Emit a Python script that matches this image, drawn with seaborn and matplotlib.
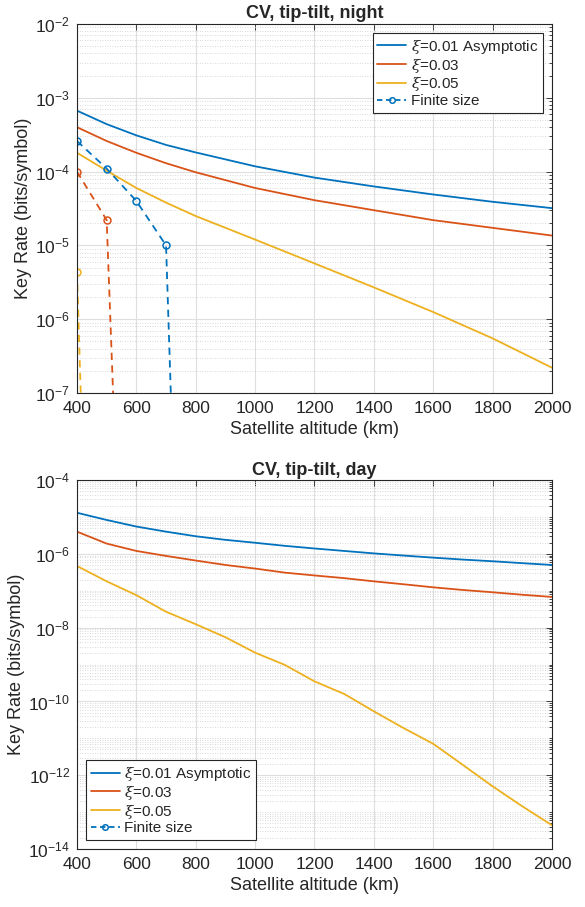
import matplotlib
matplotlib.use("Agg")
import matplotlib.pyplot as plt
import matplotlib.ticker as mticker
import numpy as np
import seaborn as sns

# ---- data ----
alt = [400, 500, 600, 700, 800, 1000, 1200, 1400, 1600, 1800, 2000]

night_xi001 = [6.7e-4, 4.4e-4, 3.1e-4, 2.3e-4, 1.82e-4, 1.18e-4, 8.3e-5, 6.3e-5, 4.9e-5, 3.9e-5, 3.2e-5]
night_xi003 = [4.0e-4, 2.6e-4, 1.8e-4, 1.3e-4, 9.8e-5, 6.0e-5, 4.1e-5, 3.0e-5, 2.2e-5, 1.73e-5, 1.36e-5]
night_xi005 = [1.8e-4, 1.03e-4, 6.0e-5, 3.8e-5, 2.5e-5, 1.2e-5, 5.7e-6, 2.7e-6, 1.25e-6, 5.5e-7, 2.2e-7]

# finite size (last point of each is where the rate collapses to ~zero)
fin_alt_001 = [400, 500, 600, 700, 732]
fin_001 = [2.6e-4, 1.1e-4, 4.0e-5, 1.0e-5, 1e-9]
fin_alt_003 = [400, 500, 540]
fin_003 = [1.0e-4, 2.2e-5, 1e-9]
fin_alt_005 = [400, 428]
fin_005 = [4.4e-6, 1e-9]

day_alt = [400, 500, 600, 700, 800, 900, 1000, 1100, 1200, 1300, 1400,
           1500, 1600, 1700, 1800, 1900, 2000]
day_xi001 = [1.3e-5, 8.3e-6, 5.5e-6, 4.0e-6, 3.0e-6, 2.4e-6, 2.0e-6, 1.65e-6, 1.4e-6,
             1.2e-6, 1.03e-6, 9.0e-7, 7.9e-7, 7.0e-7, 6.3e-7, 5.6e-7, 5.0e-7]
day_xi003 = [4.0e-6, 1.9e-6, 1.2e-6, 8.8e-7, 6.6e-7, 5.0e-7, 4.0e-7, 3.1e-7, 2.6e-7,
             2.2e-7, 1.8e-7, 1.5e-7, 1.24e-7, 1.05e-7, 9.1e-8, 7.8e-8, 6.8e-8]
day_xi005 = [4.7e-7, 1.8e-7, 7.6e-8, 2.7e-8, 1.24e-8, 5.5e-9, 2.1e-9, 9.8e-10, 3.5e-10,
             1.6e-10, 5.4e-11, 1.9e-11, 7.1e-12, 1.9e-12, 5.0e-13, 1.44e-13, 4.4e-14]

labels = [r"$\xi$=0.01 Asymptotic", r"$\xi$=0.03", r"$\xi$=0.05", "Finite size"]
colors = ["#0072BD", "#D95319", "#EDB120"]

sns.set_theme(style="white")
plt.rcParams["font.family"] = ["Liberation Sans", "DejaVu Sans"]
plt.rcParams["mathtext.fontset"] = "dejavuserif"

fig = plt.figure(figsize=(5.85, 9.07), dpi=100)
ax1 = fig.add_axes([0.1316, 0.5667, 0.812, 0.4068])
ax2 = fig.add_axes([0.1316, 0.0639, 0.812, 0.4068])


def style_axes(ax, ymin, ymax, major_base):
    ax.set_yscale("log")
    ax.set_xlim(400, 2000)
    ax.set_ylim(ymin, ymax)
    ax.set_xticks(range(400, 2001, 200))
    ax.yaxis.set_major_locator(mticker.LogLocator(base=major_base, numticks=20))
    ax.yaxis.set_minor_locator(mticker.LogLocator(base=10, subs=np.arange(1, 10), numticks=40))
    ax.yaxis.set_minor_formatter(mticker.NullFormatter())
    ax.grid(True, which="major", color="#dedede", linewidth=0.8, linestyle="-")
    ax.grid(True, which="minor", axis="y", color="#cccccc", linewidth=0.6, linestyle=(0, (1, 2)))
    ax.set_axisbelow(True)
    ax.tick_params(which="both", direction="in", top=True, right=True,
                   labelsize=12.5, colors="#262626", width=0.6)
    ax.tick_params(axis="x", which="major", pad=6)
    ax.tick_params(axis="y", which="major", pad=5)
    ax.tick_params(which="major", length=4)
    ax.tick_params(which="minor", length=2)
    for s in ax.spines.values():
        s.set_visible(True)
        s.set_color("#262626")
        s.set_linewidth(0.8)
    ax.set_xlabel("Satellite altitude (km)", fontsize=13, color="#262626", labelpad=3)
    ax.set_ylabel("Key Rate (bits/symbol)", fontsize=13, color="#262626", labelpad=2)


# ---- top: night ----
for y, c in zip([night_xi001, night_xi003, night_xi005], colors):
    sns.lineplot(x=alt, y=y, ax=ax1, color=c, linewidth=1.3)
for xs, ys, c in zip([fin_alt_001, fin_alt_003, fin_alt_005],
                     [fin_001, fin_003, fin_005], colors):
    sns.lineplot(x=xs, y=ys, ax=ax1, color=c, linewidth=1.3, linestyle=(0, (4, 3)),
                 marker="o", markersize=5, markerfacecolor="none",
                 markeredgecolor=c, markeredgewidth=1.1,
                 markevery=list(range(len(xs) - 1)))
style_axes(ax1, 1e-7, 1e-2, 10)
ax1.set_title("CV, tip-tilt, night", fontsize=13, fontweight="bold", pad=4)

# ---- bottom: day ----
for y, c in zip([day_xi001, day_xi003, day_xi005], colors):
    sns.lineplot(x=day_alt, y=y, ax=ax2, color=c, linewidth=1.3)
style_axes(ax2, 1e-14, 1e-4, 100)
ax2.set_title("CV, tip-tilt, day", fontsize=13, fontweight="bold", pad=4)

# legends
handles = [plt.Line2D([], [], color=c, linewidth=1.3) for c in colors]
handles.append(plt.Line2D([], [], color=colors[0], linewidth=1.3, linestyle=(0, (3, 2)),
                          marker="o", markersize=4, markerfacecolor="none",
                          markeredgewidth=1.1))
for ax, loc in [(ax1, "upper right"), (ax2, "lower left")]:
    leg = ax.legend(handles, labels, loc=loc, fontsize=11, frameon=True, fancybox=False,
                    framealpha=1, edgecolor="#262626", handlelength=1.9, handletextpad=0.3,
                    labelspacing=0.05, borderpad=0.3, borderaxespad=0.6)
    leg.get_frame().set_linewidth(0.8)

fig.savefig("out.png", dpi=100)
